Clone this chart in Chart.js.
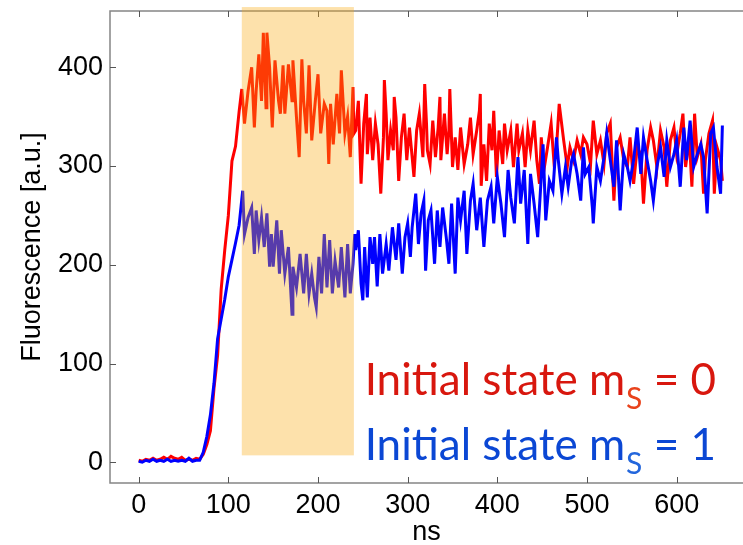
<!DOCTYPE html>
<html>
<head>
<meta charset="utf-8">
<script src="https://cdn.jsdelivr.net/npm/chart.js@4.4.0/dist/chart.umd.min.js"></script>
<style>
  html, body { margin: 0; padding: 0; background: #fff; }
  canvas { display: block; }
</style>
</head>
<body>
<canvas id="fluo" width="743" height="545"></canvas>
<script>
// fluorescence traces (time in ns, value in a.u.)
const redNs = [0,4,8,12,16,20,24,28,32,36,40,44,48,52,56,60,64,68,72,76,80,84,88,92,96,100,104,108,112,
  115,118,122,126,129,131,134,137,139,142,143,146,149,152,156,158,161,163,167,171,172,176,179,182,184,187,190,193,197,200,203,207,210,212,214,217,221,224,226,230,233,236,239,240,
  242,245,248,251,254,255,258,261,264,267,270,273,274,276,278,281,284,285,287,290,293,296,299,302,304,307,310,313,317,319,321,322,325,328,331,334,336,337,341,344,346,347,350,353,356,359,363,367,370,373,377,380,381,382,385,388,391,394,396,399,402,406,408,411,415,418,422,424,428,431,434,437,441,444,447,449,452,456,460,463,
  466,469,474,478,481,485,489,493,496,500,504,507,511,515,519,522,526,530,533,537,541,545,548,552,556,560,563,567,571,574,578,582,586,589,593,597,600,604,607,610,614,617,620,623,627,630,632,636,640,642,645,649,651];
const redVals = [2,1,3,2,4,2,3,5,3,6,4,3,5,2,3,2,4,3,8,18,32,75,108,175,215,250,305,320,355,
  378,343,376,400,339,376,413,366,435,359,435,400,339,407,366,353,402,353,403,366,407,349,309,408,366,333,402,326,366,393,333,363,356,302,363,322,373,333,397,333,350,309,380,333,
  336,366,282,343,373,312,349,306,343,322,272,329,387,353,306,336,316,370,349,285,329,353,306,339,319,289,336,353,309,383,343,316,302,346,309,339,370,306,353,312,336,378,299,329,296,339,302,322,349,312,336,356,373,280,322,285,343,316,356,289,336,302,343,316,336,299,343,316,333,299,336,316,346,306,282,329,296,319,343,306,
  319,363,326,299,319,306,326,312,329,322,302,346,312,326,302,333,343,265,319,329,306,299,329,282,319,312,262,316,339,326,299,336,319,279,326,339,312,333,353,299,329,279,353,309,322,272,306,333,346,272,319,306,285];

const blueNs = [0,4,8,12,16,20,24,28,32,36,40,44,48,52,56,60,64,68,72,76,80,84,88,92,96,100,104,108,112,
  116,118,122,126,129,131,134,137,140,143,146,148,150,154,157,159,163,167,171,172,176,180,184,187,190,193,196,198,201,204,207,210,213,216,219,223,226,230,233,236,239,
  241,242,245,248,250,252,255,258,261,263,266,269,272,276,279,283,287,290,294,297,300,303,305,309,312,315,318,320,323,326,330,333,336,339,343,346,349,353,356,359,363,366,370,373,377,381,385,389,393,396,400,404,408,412,415,419,423,426,430,434,437,441,445,449,451,454,458,462,
  466,468,472,476,479,483,485,489,493,496,498,502,506,507,511,515,519,522,526,530,533,537,541,545,548,552,556,560,563,567,571,574,578,582,586,589,593,597,600,604,608,611,615,619,623,627,630,634,638,641,645,649,651];
const blueVals = [1,0,2,1,3,1,2,1,3,1,2,1,2,1,4,1,2,2,10,26,48,80,125,145,165,188,205,222,240,
  275,231,248,258,211,255,225,248,218,252,198,231,198,245,191,235,191,218,150,198,177,211,171,211,171,191,167,157,208,171,231,177,225,171,204,177,218,167,221,171,201,
  231,215,235,181,164,218,167,228,201,228,178,231,191,221,194,238,205,242,191,228,242,208,238,272,221,252,265,194,245,255,201,255,218,258,228,201,262,191,268,245,275,211,265,282,235,268,218,265,279,242,289,262,228,296,268,242,309,262,296,221,292,262,228,289,322,245,285,275,
  329,306,272,299,279,306,312,292,265,319,292,299,258,242,299,285,309,333,306,279,326,255,312,299,285,306,339,292,329,306,285,265,299,319,289,326,299,312,326,279,339,306,346,299,312,322,309,252,333,339,299,272,341];

const xTicks = [0, 100, 200, 300, 400, 500, 600];
const yTicks = [0, 100, 200, 300, 400];

// shaded readout window
const windowNs = [115, 240];
const windowLevels = [7, 461];

// in-plot labels
const stateNames = ['Initial state m', 'Initial state m'];
const stateValues = [' = 0', ' = 1'];

const axisFont = { family: 'Liberation Sans, Arial, sans-serif', size: 27 };

const frame = {
  id: 'frame',
  afterDatasetsDraw(chart) {
    const { ctx, chartArea: a, scales: { x, y } } = chart;
    ctx.save();
    // box (right edge is off the canvas)
    ctx.strokeStyle = '#858585';
    ctx.lineWidth = 1.5;
    ctx.beginPath();
    ctx.moveTo(a.right + 3, a.top);
    ctx.lineTo(a.left, a.top);
    ctx.lineTo(a.left, a.bottom);
    ctx.lineTo(a.right + 3, a.bottom);
    ctx.stroke();

    // ticks point inwards
    ctx.strokeStyle = '#555';
    ctx.lineWidth = 1;
    ctx.beginPath();
    xTicks.forEach(v => {
      const px = Math.round(x.getPixelForValue(v)) + 0.5;
      ctx.moveTo(px, a.bottom); ctx.lineTo(px, a.bottom - 6);
      ctx.moveTo(px, a.top); ctx.lineTo(px, a.top + 6);
    });
    yTicks.forEach(v => {
      const py = Math.round(y.getPixelForValue(v)) + 0.5;
      ctx.moveTo(a.left, py); ctx.lineTo(a.left + 6, py);
    });
    ctx.stroke();

    // translucent window over the traces
    const x0 = x.getPixelForValue(windowNs[0]);
    const x1 = x.getPixelForValue(windowNs[1]);
    const y0 = y.getPixelForValue(windowLevels[1]);
    const y1 = y.getPixelForValue(windowLevels[0]);
    ctx.fillStyle = 'rgba(249,170,14,0.35)';
    ctx.fillRect(x0, y0, x1 - x0, y1 - y0);

    // labels
    const colors = [['#d8170e', '#e9431c'], ['#0b47d4', '#2366dc']];
    const baselines = [68, 2];
    stateNames.forEach((name, i) => {
      let tx = x.getPixelForValue(252);
      const ty = y.getPixelForValue(baselines[i]);
      ctx.textBaseline = 'alphabetic';
      ctx.textAlign = 'left';
      ctx.font = '44px Lato';
      ctx.fillStyle = colors[i][0];
      ctx.fillText(name, tx, ty);
      tx += ctx.measureText(name).width + 1;
      ctx.font = '30px Lato';
      ctx.fillStyle = colors[i][1];
      ctx.fillText('S', tx, ty + 14);
      tx += ctx.measureText('S').width;
      ctx.font = '44px Lato';
      ctx.fillStyle = colors[i][0];
      ctx.fillText(stateValues[i], tx, ty);
    });
    ctx.restore();
  }
};

new Chart(document.getElementById('fluo').getContext('2d'), {
  type: 'line',
  data: {
    datasets: [{
      label: 'm_S = 1',
      data: blueNs.map((t, i) => ({ x: t, y: blueVals[i] })),
      borderColor: '#0000ff',
      borderWidth: 3,
      pointRadius: 0,
      tension: 0,
      order: 1
    }, {
      label: 'm_S = 0',
      data: redNs.map((t, i) => ({ x: t, y: redVals[i] })),
      borderColor: '#ff0000',
      borderWidth: 3,
      pointRadius: 0,
      tension: 0,
      order: 2
    }]
  },
  options: {
    responsive: false,
    animation: false,
    devicePixelRatio: 1,
    layout: { padding: { top: 11, right: 0, bottom: 0, left: 0 } },
    plugins: { legend: { display: false }, tooltip: { enabled: false } },
    scales: {
      x: {
        type: 'linear',
        min: -32,
        max: 674,
        afterBuildTicks: s => { s.ticks = xTicks.map(v => ({ value: v })); },
        afterFit: s => { s.height = 62; s.paddingLeft = 0; s.paddingRight = 0; },
        grid: { display: false, drawTicks: false },
        border: { display: false },
        ticks: { color: '#000', font: axisFont, padding: 6, maxRotation: 0, autoSkip: false },
        title: { display: true, text: 'ns', color: '#000', font: { family: axisFont.family, size: 27, lineHeight: 0.95 }, padding: { top: 0, bottom: 0 } }
      },
      y: {
        min: -21,
        max: 457,
        afterBuildTicks: s => { s.ticks = yTicks.map(v => ({ value: v })); },
        afterFit: s => { s.width = 110; s.paddingTop = 0; s.paddingBottom = 0; },
        grid: { display: false, drawTicks: false },
        border: { display: false },
        ticks: { color: '#000', font: axisFont, padding: 7 },
        title: { display: true, text: 'Fluorescence [a.u.]', color: '#000', font: axisFont, padding: { top: 16, bottom: 0 } }
      }
    }
  },
  plugins: [frame]
});
</script>
</body>
</html>
